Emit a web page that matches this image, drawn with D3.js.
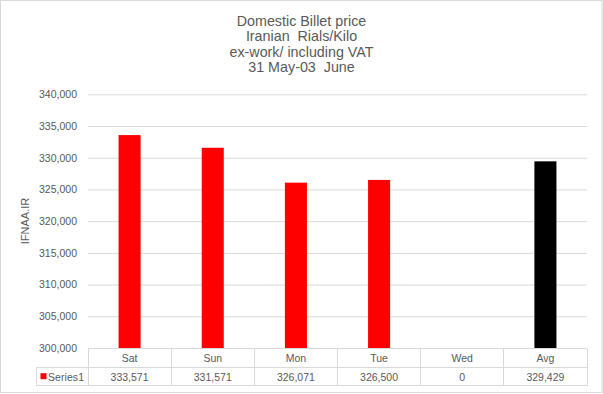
<!DOCTYPE html>
<html><head><meta charset="utf-8">
<script src="https://cdn.jsdelivr.net/npm/d3@7"></script>
<style>
html,body{margin:0;padding:0;background:#fff;}
svg{display:block;}
</style>
</head><body>
<script>
const titleLines = ["Domestic Billet price", "Iranian  Rials/Kilo", "ex-work/ including VAT", "31 May-03  June"];
const categories = ["Sat", "Sun", "Mon", "Tue", "Wed", "Avg"];
const values = [333571, 331571, 326071, 326500, 0, 329429];
const barColors = ["#ff0000", "#ff0000", "#ff0000", "#ff0000", "#ff0000", "#000000"];
const yTicks = [300000, 305000, 310000, 315000, 320000, 325000, 330000, 335000, 340000];
const seriesName = "Series1";
const yLabel = "IFNAA.IR";

(function () {
const W = 603, H = 394;
const pLeft = 88, pRight = 587, pTop = 94.3, pBottom = 348;
const rowH = 18.7;
const tableLeft = 36;

const svg = d3.select("body").append("svg").attr("width", W).attr("height", H);
svg.append("rect").attr("x", 0.5).attr("y", 0.5).attr("width", W - 1.5).attr("height", H - 2)
  .attr("fill", "#fff").attr("stroke", "#d9d9d9");

const font = "'Liberation Sans', Arial, sans-serif";
const txt = "#595959";

// title
svg.append("g").selectAll("text").data(titleLines).join("text")
  .attr("x", 301.5).attr("y", (d, i) => 25.5 + i * 15.5)
  .attr("text-anchor", "middle").attr("font-family", font).attr("font-size", 14.3)
  .attr("xml:space", "preserve").style("white-space", "pre")
  .attr("fill", txt).text(d => d);

const x = d3.scaleBand().domain(categories).range([pLeft, pRight]).paddingInner(0.735).paddingOuter(0.3675);
const xc = d3.scaleBand().domain(categories).range([pLeft, pRight]);
const y = d3.scaleLinear().domain([300000, 340000]).range([pBottom, pTop]);

// gridlines
const yAxis = d3.axisLeft(y).tickValues(yTicks).tickSize(-(pRight - pLeft)).tickPadding(11)
  .tickFormat(d3.format(","));
const ga = svg.append("g").attr("transform", `translate(${pLeft},0)`).call(yAxis);
ga.select(".domain").remove();
ga.selectAll(".tick line").attr("stroke", "#d9d9d9");
ga.selectAll(".tick text").attr("font-family", font).attr("font-size", 10.5).attr("fill", txt);

// bars
const data = categories.map((c, i) => ({c, v: values[i], col: barColors[i]}));
svg.append("g").selectAll("rect").data(data.filter(d => d.v > 300000)).join("rect")
  .attr("x", d => x(d.c)).attr("width", x.bandwidth())
  .attr("y", d => y(d.v)).attr("height", d => y(300000) - y(d.v))
  .attr("fill", d => d.col);

// y label
svg.append("text").attr("transform", `translate(29,221) rotate(-90)`)
  .attr("text-anchor", "middle").attr("font-family", font).attr("font-size", 11)
  .attr("fill", txt).text(yLabel);

// data table
const tg = svg.append("g").attr("stroke", "#d9d9d9").attr("shape-rendering", "crispEdges");
const t0 = pBottom + 0.5, t1 = t0 + rowH, t2 = t1 + rowH;
tg.append("line").attr("x1", pLeft).attr("x2", pRight).attr("y1", t0).attr("y2", t0);
tg.append("line").attr("x1", tableLeft).attr("x2", pRight).attr("y1", t1).attr("y2", t1);
tg.append("line").attr("x1", tableLeft).attr("x2", pRight).attr("y1", t2).attr("y2", t2);
tg.append("line").attr("x1", tableLeft).attr("x2", tableLeft).attr("y1", t1).attr("y2", t2);
tg.selectAll("line.v").data(categories.concat(["_end"])).join("line")
  .attr("x1", (d, i) => pLeft + i * xc.step()).attr("x2", (d, i) => pLeft + i * xc.step())
  .attr("y1", t0).attr("y2", t2);

svg.append("g").selectAll("text").data(categories).join("text")
  .attr("x", d => xc(d) + xc.bandwidth() / 2).attr("y", t0 + rowH / 2 + 4)
  .attr("text-anchor", "middle").attr("font-family", font).attr("font-size", 10.5)
  .attr("fill", txt).text(d => d);
svg.append("g").selectAll("text").data(data).join("text")
  .attr("x", d => xc(d.c) + xc.bandwidth() / 2).attr("y", t1 + rowH / 2 + 4)
  .attr("text-anchor", "middle").attr("font-family", font).attr("font-size", 10.5)
  .attr("fill", txt).text(d => d3.format(",")(d.v));

svg.append("rect").attr("x", 40.5).attr("y", t1 + 6).attr("width", 6).attr("height", 6).attr("fill", "#ff0000");
svg.append("text").attr("x", 48).attr("y", t1 + rowH / 2 + 4)
  .attr("font-family", font).attr("font-size", 10.5).attr("fill", txt)
  .attr("textLength", 36).text(seriesName);
})();
</script>
</body></html>
